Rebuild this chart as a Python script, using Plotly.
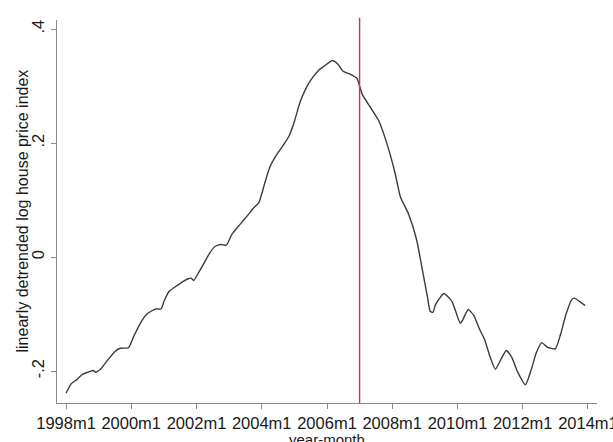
import pandas as pd
import plotly.graph_objects as go

# months since 1998m1 at which values were read
month_idx = [0, 2, 4, 6, 8, 10, 11, 13, 15, 18, 20, 23, 25, 28, 30, 33, 35, 36, 38, 40,
             43, 45, 46, 47, 49, 51, 53, 55, 57, 59, 61, 64, 67, 69, 71, 73, 75, 77, 80, 82,
             84, 86, 88, 90, 93, 95, 98, 100, 102, 104, 107, 108, 109, 112, 115, 118, 121, 123, 126, 129,
             131, 133, 134, 135, 136, 139, 141, 142, 143, 145, 146, 148, 150, 152, 154, 156, 158, 160, 162, 164,
             166, 169, 171, 173, 175, 177, 180, 182, 184, 186, 187, 189, 191]
hpi_detrended = [-0.239, -0.222, -0.215, -0.206, -0.202, -0.199, -0.202, -0.195, -0.183, -0.166,
                 -0.160, -0.159, -0.138, -0.111, -0.099, -0.091, -0.091, -0.078, -0.060, -0.053,
                 -0.043, -0.038, -0.037, -0.041, -0.025, -0.009, 0.008, 0.019, 0.022, 0.021,
                 0.040, 0.057, 0.074, 0.086, 0.096, 0.128, 0.158, 0.176, 0.197, 0.212,
                 0.238, 0.270, 0.293, 0.310, 0.328, 0.335, 0.345, 0.339, 0.326, 0.322,
                 0.314, 0.300, 0.285, 0.263, 0.240, 0.200, 0.148, 0.106, 0.076, 0.030,
                 -0.020, -0.072, -0.095, -0.097, -0.083, -0.064, -0.072, -0.078, -0.090, -0.116,
                 -0.110, -0.092, -0.102, -0.125, -0.145, -0.175, -0.197, -0.180, -0.164, -0.176,
                 -0.200, -0.224, -0.200, -0.168, -0.150, -0.158, -0.161, -0.135, -0.100, -0.075,
                 -0.072, -0.078, -0.085]

x_tick_dates = ["1998-01-01", "2000-01-01", "2002-01-01", "2004-01-01", "2006-01-01",
                "2008-01-01", "2010-01-01", "2012-01-01", "2014-01-01"]
x_tick_labels = ["1998m1", "2000m1", "2002m1", "2004m1", "2006m1",
                 "2008m1", "2010m1", "2012m1", "2014m1"]
y_tick_vals = [-0.2, 0, 0.2, 0.4]
y_tick_labels = ["-.2", "0", ".2", ".4"]
event_date = "2007-01-01"
x_title = "year-month"
y_title = "linearly detrended log house price index"

start = pd.Timestamp("1998-01-01")
dates = [start + pd.DateOffset(months=m) for m in month_idx]

FONT = "Liberation Sans, Arial, sans-serif"
AXIS_COL = "#8a8a8a"
TXT = "#1a1a1a"

fig = go.Figure()
fig.add_trace(go.Scatter(
    x=dates, y=hpi_detrended, mode="lines",
    line=dict(color="#3b3b3b", width=1.4, shape="spline", smoothing=0.5),
    hoverinfo="skip", showlegend=False,
))

fig.add_shape(type="line", xref="x", yref="paper",
              x0=event_date, x1=event_date, y0=0, y1=1.006,
              line=dict(color="#e0245a", width=1.4))

fig.add_annotation(text=x_title, xref="paper", yref="paper",
                   x=0.5, y=0, yshift=-36, xanchor="center", yanchor="middle",
                   showarrow=False, font=dict(size=15, family=FONT, color=TXT))
fig.add_annotation(text=y_title, xref="paper", yref="paper", textangle=-90,
                   x=0, y=0.5, xshift=-35, xanchor="center", yanchor="middle",
                   showarrow=False, font=dict(size=16, family=FONT, color=TXT))

fig.update_layout(
    width=613, height=442,
    margin=dict(l=57, r=16, t=20, b=39),
    paper_bgcolor="white", plot_bgcolor="white",
    font=dict(family=FONT, size=16, color=TXT),
    showlegend=False,
)

fig.update_xaxes(
    type="date",
    range=["1997-09-22", "2014-04-12"],
    tickmode="array", tickvals=x_tick_dates, ticktext=x_tick_labels,
    ticks="outside", ticklen=5, tickcolor=AXIS_COL, tickwidth=1,
    showline=True, linecolor=AXIS_COL, linewidth=1.2,
    showgrid=False, zeroline=False,
    tickfont=dict(size=16.5, family=FONT, color=TXT),
    ticklabeloverflow="allow",
    automargin=False,
)
fig.update_yaxes(
    range=[-0.256, 0.416],
    tickmode="array", tickvals=y_tick_vals, ticktext=y_tick_labels,
    tickangle=-90,
    ticks="outside", ticklen=5, tickcolor=AXIS_COL, tickwidth=1,
    showline=True, linecolor=AXIS_COL, linewidth=1.2,
    showgrid=False, zeroline=False,
    tickfont=dict(size=16.5, family=FONT, color=TXT),
    automargin=False,
)

fig.write_html("out.html", config={"displayModeBar": False},
               post_script="document.body.style.margin='0';document.body.style.overflow='hidden';")
